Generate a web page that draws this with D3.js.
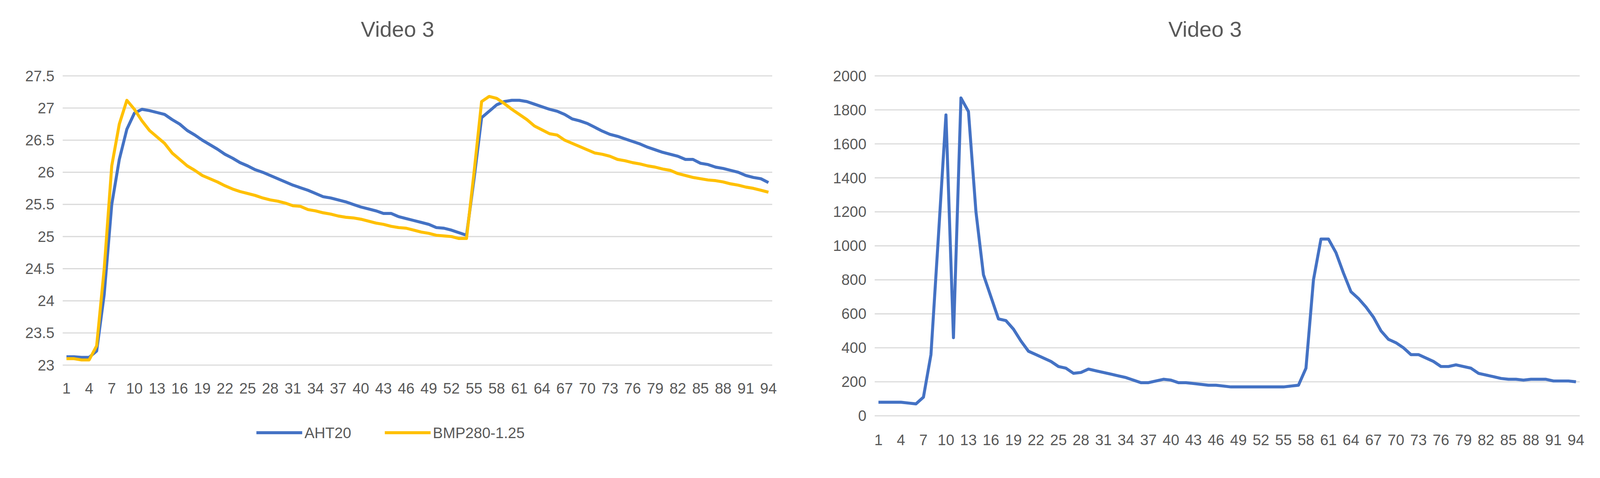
<!DOCTYPE html>
<html><head><meta charset="utf-8">
<script src="https://cdn.jsdelivr.net/npm/d3@7"></script>
<style>html,body{margin:0;background:#fff;overflow:hidden}svg{display:block}text{font-family:"Liberation Sans Narrow","Liberation Sans",Arial,sans-serif;fill:#595959}</style>
</head><body><div id="c"></div>
<script>
// Data
var aht20 = [23.13,23.13,23.12,23.12,23.22,24.1,25.5,26.2,26.67,26.92,26.98,26.96,26.93,26.9,26.82,26.75,26.65,26.58,26.5,26.43,
  26.36,26.28,26.22,26.15,26.1,26.04,26.0,25.95,25.9,25.85,25.8,25.76,25.72,25.67,25.62,25.6,25.57,25.54,25.5,25.46,
  25.43,25.4,25.36,25.36,25.31,25.28,25.25,25.22,25.19,25.14,25.13,25.1,25.06,25.02,25.9,26.85,26.95,27.05,27.1,27.12,
  27.12,27.1,27.06,27.02,26.98,26.95,26.9,26.83,26.8,26.76,26.7,26.64,26.59,26.56,26.52,26.48,26.44,26.39,26.35,26.31,
  26.28,26.25,26.2,26.2,26.14,26.12,26.08,26.06,26.03,26.0,25.95,25.92,25.9,25.84];
var bmp280 = [23.1,23.1,23.08,23.08,23.3,24.5,26.1,26.75,27.12,26.98,26.8,26.65,26.55,26.45,26.3,26.2,26.1,26.03,25.95,25.9,
  25.85,25.79,25.74,25.7,25.67,25.64,25.6,25.57,25.55,25.52,25.48,25.47,25.42,25.4,25.37,25.35,25.32,25.3,25.29,25.27,
  25.24,25.21,25.19,25.16,25.14,25.13,25.1,25.07,25.05,25.02,25.01,25.0,24.97,24.97,26.0,27.1,27.18,27.15,27.07,26.98,
  26.9,26.82,26.72,26.66,26.6,26.58,26.5,26.45,26.4,26.35,26.3,26.28,26.25,26.2,26.18,26.15,26.13,26.1,26.08,26.05,
  26.03,25.98,25.95,25.92,25.9,25.88,25.87,25.85,25.82,25.8,25.77,25.75,25.72,25.69];
var second = [80,80,80,80,75,70,110,360,1060,1770,460,1870,1790,1200,830,700,570,560,510,440,
  380,360,340,320,290,280,250,255,275,265,255,245,235,225,210,195,195,205,215,210,
  195,195,190,185,180,180,175,170,170,170,170,170,170,170,170,175,180,280,800,1040,
  1040,960,840,730,690,640,580,500,450,430,400,360,360,340,320,290,290,300,290,280,
  250,240,230,220,215,215,210,215,215,215,205,205,205,200];
var categories = d3.range(1, 95);
var leftTicks = [23,23.5,24,24.5,25,25.5,26,26.5,27,27.5];
var rightTicks = [0,200,400,600,800,1000,1200,1400,1600,1800,2000];
var seriesNames = ["AHT20", "BMP280-1.25"];
var colors = ["#4472C4", "#FFC000"];

// fit the 4262x1223 drawing to whatever viewport we get
var svg = d3.select("#c").append("svg")
  .attr("viewBox", "0 0 4262 1223")
  .attr("width", "100%")
  .attr("preserveAspectRatio", "xMinYMin meet");

function drawChart(left, right, top, bottom, domain, ticks, series, titleX, labelY){
  var x = d3.scalePoint().domain(categories).range([left, right]).padding(0.5);
  var y = d3.scaleLinear().domain(domain).range([bottom, top]);
  var g = svg.append("g");

  // gridlines
  g.selectAll(".grid").data(ticks).enter().append("line")
    .attr("x1", left).attr("x2", right)
    .attr("y1", function(d){ return y(d); }).attr("y2", function(d){ return y(d); })
    .style("stroke", "#d9d9d9").style("stroke-width", 3);

  // y labels
  g.selectAll(".yl").data(ticks).enter().append("text")
    .attr("x", left - 22).attr("y", function(d){ return y(d); })
    .attr("dy", "0.35em").style("text-anchor", "end").style("font-size", "40px")
    .text(function(d){ return d; });

  // x labels
  g.selectAll(".xl").data(categories.filter(function(d){ return (d - 1) % 3 == 0; })).enter().append("text")
    .attr("x", function(d){ return x(d); }).attr("y", labelY)
    .style("text-anchor", "middle").style("font-size", "40px")
    .text(function(d){ return d; });

  var line = d3.line().x(function(d, i){ return x(categories[i]); }).y(function(d){ return y(d); });
  series.forEach(function(s, k){
    g.append("path").datum(s).attr("d", line)
      .style("fill", "none").style("stroke", colors[k]).style("stroke-width", 8)
      .style("stroke-linejoin", "round");
  });

  g.append("text").attr("x", titleX).attr("y", 98)
    .style("text-anchor", "middle").style("font-size", "58px").text("Video 3");
}

drawChart(167, 2057, 202, 972, [23, 27.5], leftTicks, [aht20, bmp280], 1059, 1048);
drawChart(2330, 4208, 202, 1107, [0, 2000], rightTicks, [second], 3210, 1185);

// legend
var legendX = [683, 1025];
seriesNames.forEach(function(n, i){
  svg.append("line").attr("x1", legendX[i]).attr("x2", legendX[i] + 122)
    .attr("y1", 1152).attr("y2", 1152).style("stroke", colors[i]).style("stroke-width", 8);
  svg.append("text").attr("x", legendX[i] + 128).attr("y", 1152).attr("dy", "0.35em")
    .style("font-size", "40px").text(n);
});
</script></body></html>
